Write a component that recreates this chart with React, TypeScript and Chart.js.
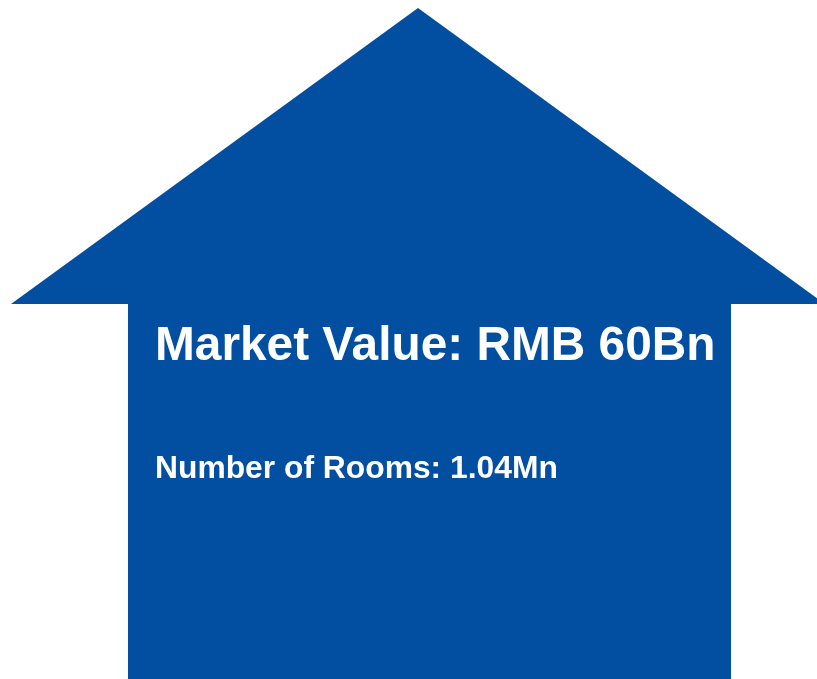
import React, { useEffect, useRef } from "react";
import { Chart, registerables } from "chart.js";

Chart.register(...registerables);

// House outline in the chart's own units (x: 0..817, y: 0..679, y grows downward)
const roofX = [11, 418, 825];
const roofY = [304, 8, 304];
const roofBase = 304;
const bodyX = [128, 731];
const bodyY = [304, 304];

const labels = ["Market Value: RMB 60Bn", "Number of Rooms: 1.04Mn"];
const labelX = [155, 155];
const labelY = [360, 478];
const labelSize = [47.8, 31.8];

const HOUSE_BLUE = "#024EA1";

export default function App() {
  const ref = useRef<HTMLCanvasElement | null>(null);

  useEffect(() => {
    if (!ref.current) return;
    const textPlugin = {
      id: "houseText",
      afterDatasetsDraw(chart: any) {
        const { ctx, scales } = chart;
        ctx.save();
        ctx.fillStyle = "#ffffff";
        ctx.textBaseline = "alphabetic";
        ctx.textAlign = "left";
        labels.forEach((t, i) => {
          ctx.font = `bold ${labelSize[i]}px "Liberation Sans", Arial, sans-serif`;
          ctx.fillText(t, scales.x.getPixelForValue(labelX[i]), scales.y.getPixelForValue(labelY[i]));
        });
        ctx.restore();
      },
    };
    const chart = new Chart(ref.current, {
      type: "scatter",
      data: {
        datasets: [
          {
            data: roofX.map((x, i) => ({ x, y: roofY[i] })),
            showLine: true,
            borderWidth: 0,
            borderColor: HOUSE_BLUE,
            backgroundColor: HOUSE_BLUE,
            pointRadius: 0,
            tension: 0,
            fill: { value: roofBase },
          },
          {
            data: bodyX.map((x, i) => ({ x, y: bodyY[i] })),
            showLine: true,
            borderWidth: 0,
            borderColor: HOUSE_BLUE,
            backgroundColor: HOUSE_BLUE,
            pointRadius: 0,
            tension: 0,
            fill: "start",
          },
        ],
      },
      options: {
        animation: false,
        responsive: false,
        maintainAspectRatio: false,
        layout: { padding: 0 },
        plugins: { legend: { display: false }, tooltip: { enabled: false }, title: { display: false } },
        scales: {
          x: { type: "linear", min: 0, max: 817, display: false },
          y: { type: "linear", min: 0, max: 679, reverse: true, display: false },
        },
      },
      plugins: [textPlugin],
    });
    return () => chart.destroy();
  }, []);

  return (
    <div style={{ position: "absolute", left: 0, top: 0, width: 817, height: 679, background: "#ffffff" }}>
      <canvas ref={ref} width={817} height={679} style={{ display: "block" }} />
    </div>
  );
}
